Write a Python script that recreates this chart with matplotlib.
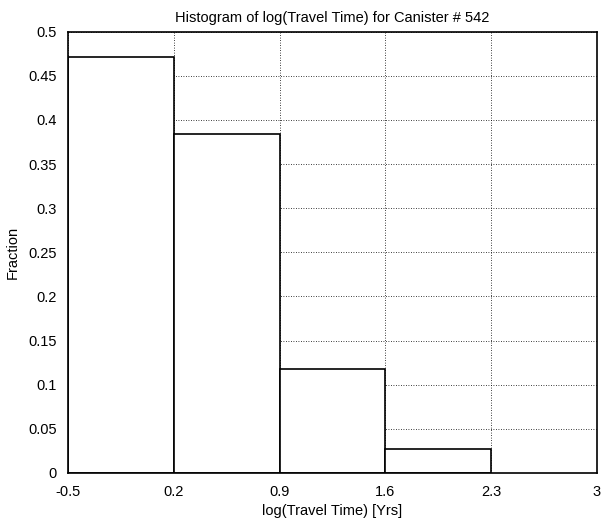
import numpy as np
import matplotlib
matplotlib.use('Agg')
import matplotlib.pyplot as plt

# left edges of the bins and fractions
bin_lefts = [-0.5, 0.2, 0.9, 1.6]
fractions = [0.471, 0.384, 0.118, 0.027]
bin_width = 0.7

xticks = [-0.5, 0.2, 0.9, 1.6, 2.3, 3]
xtick_labels = ['-0.5', '0.2', '0.9', '1.6', '2.3', '3']
yticks = np.arange(0, 0.51, 0.05)
ytick_labels = ['0', '0.05', '0.1', '0.15', '0.2', '0.25', '0.3', '0.35', '0.4', '0.45', '0.5']

plt.rcParams['font.family'] = ['Liberation Sans', 'DejaVu Sans']

fig = plt.figure(figsize=(6.03, 5.29), dpi=100)
ax = fig.add_axes([0.113, 0.106, 0.877, 0.834])

ax.bar(bin_lefts, fractions, width=bin_width, align='edge',
       color='white', edgecolor='black', linewidth=1.2, zorder=2)

ax.set_xlim(-0.5, 3)
ax.set_ylim(0, 0.5)
ax.set_xticks(xticks)
ax.set_xticklabels(xtick_labels)
ax.set_yticks(yticks)
ax.set_yticklabels(ytick_labels)
ax.tick_params(axis='both', direction='in', length=0, labelsize=10.5)
ax.tick_params(axis='x', pad=9)
ax.tick_params(axis='y', pad=8)

ax.grid(True, color='black', linestyle=(0, (1, 2)), linewidth=0.6, zorder=0)
ax.set_axisbelow(True)
for sp in ax.spines.values():
    sp.set_linewidth(1.2)

ax.set_title('Histogram of log(Travel Time) for Canister # 542', fontsize=10.5, pad=7)
ax.set_xlabel('log(Travel Time) [Yrs]', fontsize=10.5, labelpad=3)
ax.set_ylabel('Fraction', fontsize=10.5, labelpad=6)

plt.savefig('out.png', dpi=100)
